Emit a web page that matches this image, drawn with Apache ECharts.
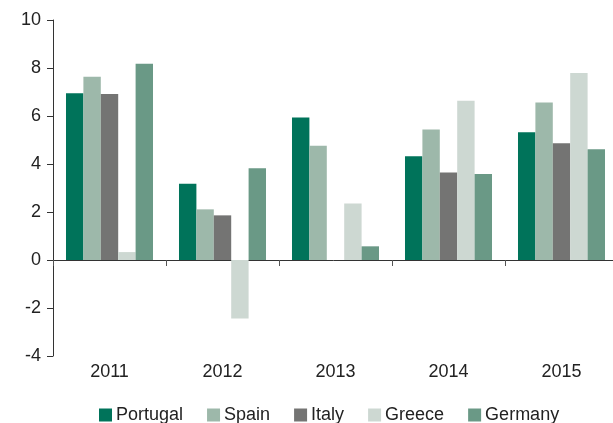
<!DOCTYPE html>
<html>
<head>
<meta charset="utf-8">
<script src="https://cdn.jsdelivr.net/npm/echarts@6/dist/echarts.min.js"></script>
<style>html,body{margin:0;padding:0;background:#fff}#c{width:613px;height:423px}</style>
</head>
<body>
<div id="c"></div>
<script>
const categories = ['2011', '2012', '2013', '2014', '2015'];
const portugal = [6.95, 3.18, 5.94, 4.32, 5.32];
const spain = [7.64, 2.11, 4.76, 5.44, 6.56];
const italy = [6.92, 1.86, null, 3.65, 4.86];
const greece = [0.33, -2.44, 2.35, 6.64, 7.79];
const germany = [8.18, 3.82, 0.57, 3.58, 4.61];
const seriesNames = ['Portugal', 'Spain', 'Italy', 'Greece', 'Germany'];
const seriesData = [portugal, spain, italy, greece, germany];
const colors = ['#00735a', '#9db8aa', '#747473', '#cdd8d2', '#6a9986'];

const font = 'Liberation Sans, Arial, Helvetica, sans-serif';
const chart = echarts.init(document.getElementById('c'), null, {renderer: 'canvas'});
chart.setOption({
  animation: false,
  color: colors,
  textStyle: {fontFamily: font},
  grid: {left: 53, top: 20, right: -5, bottom: 67, containLabel: false, outerBoundsMode: 'none'},
  legend: {
    top: 401, left: 94,
    itemWidth: 13, itemHeight: 13, itemGap: 24,
    icon: 'rect',
    textStyle: {fontSize: 18, color: '#222', fontFamily: font, padding: [0, 0, 0, -1]},
    data: seriesNames
  },
  xAxis: [{
    type: 'category',
    data: categories,
    axisLine: {onZero: true, lineStyle: {color: '#333', width: 1}},
    axisTick: {show: true, length: 6, lineStyle: {color: '#555'}},
    axisLabel: {show: false},
    splitLine: {show: false}
  }, {
    type: 'category',
    data: categories,
    position: 'bottom',
    axisLine: {show: false, onZero: false},
    axisTick: {show: false},
    axisLabel: {margin: 7, fontSize: 18, color: '#222', fontFamily: font},
    splitLine: {show: false}
  }],
  yAxis: {
    type: 'value',
    min: -4, max: 10, interval: 2,
    axisLine: {show: true, lineStyle: {color: '#333', width: 1}},
    axisTick: {show: true, length: 6, lineStyle: {color: '#333'}},
    axisLabel: {margin: 12, fontSize: 18, color: '#222', fontFamily: font},
    splitLine: {show: false}
  },
  series: seriesNames.map((n, i) => ({
    name: n,
    type: 'bar',
    xAxisIndex: 0,
    data: seriesData[i],
    barGap: '0%',
    barCategoryGap: '23%',
    itemStyle: {color: colors[i]}
  }))
});
</script>
</body>
</html>
